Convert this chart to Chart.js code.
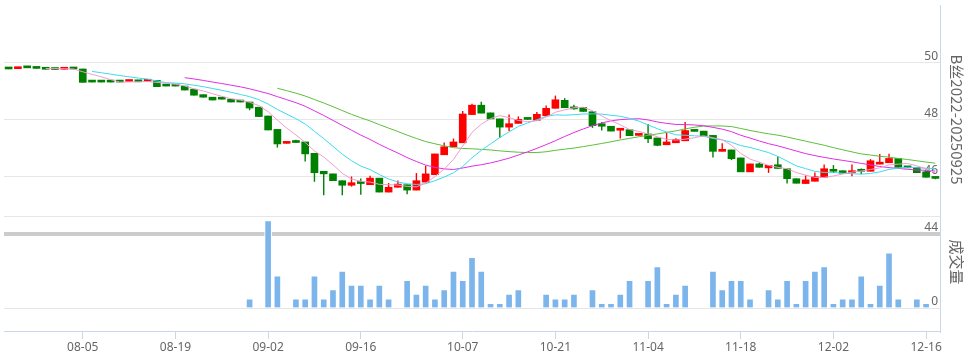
<!DOCTYPE html>
<html>
<head>
<meta charset="utf-8">
<script src="https://cdn.jsdelivr.net/npm/chart.js@4.4.1/dist/chart.umd.min.js"></script>
<style>
html,body{margin:0;padding:0;background:#ffffff;overflow:hidden}
#wrap{position:relative;width:970px;height:359px}
</style>
</head>
<body>
<div id="wrap"><canvas id="c" width="970" height="359"></canvas></div>
<script>
// ---- data ----
const dates = [
 '07-24','07-25','07-26','07-29','07-30','07-31','08-01','08-02',
 '08-05','08-06','08-07','08-08','08-09','08-12','08-13','08-14','08-15','08-16',
 '08-19','08-20','08-21','08-22','08-23','08-26','08-27','08-28','08-29','08-30',
 '09-02','09-03','09-04','09-05','09-06','09-09','09-10','09-11','09-12','09-13',
 '09-16','09-17','09-18','09-19','09-20','09-23','09-24','09-25','09-26','09-27','09-30',
 '10-07','10-08','10-09','10-10','10-11','10-14','10-15','10-16','10-17','10-18',
 '10-21','10-22','10-23','10-24','10-25','10-28','10-29','10-30','10-31','11-01',
 '11-04','11-05','11-06','11-07','11-08','11-11','11-12','11-13','11-14','11-15',
 '11-18','11-19','11-20','11-21','11-22','11-25','11-26','11-27','11-28','11-29',
 '12-02','12-03','12-04','12-05','12-06','12-09','12-10','12-11','12-12','12-13',
 '12-16','12-17'
];
const tickLabels = ['08-05','08-19','09-02','09-16','10-07','10-21','11-04','11-18','12-02','12-16'];

const openP = [
 49.80,49.80,49.84,49.82,49.79,49.78,49.78,49.80,49.79,49.34,
 49.34,49.34,49.34,49.35,49.35,49.36,49.39,49.20,49.20,49.19,
 49.08,48.89,48.80,48.74,48.73,48.64,48.63,48.45,48.14,47.67,
 47.18,47.24,47.23,46.83,46.20,46.11,45.87,45.71,45.80,45.73,
 45.96,45.47,45.64,45.73,45.54,45.82,46.08,46.78,47.06,47.20,
 48.19,48.52,48.25,48.04,47.75,47.88,48.03,47.99,48.15,48.41,
 48.69,48.43,48.44,48.29,47.87,47.78,47.64,47.66,47.46,47.51,
 47.37,47.13,47.20,47.27,47.63,47.61,47.46,46.90,46.95,46.67,
 46.18,46.46,46.32,46.43,46.29,45.94,45.77,45.85,45.99,46.27,
 46.22,46.15,46.21,46.20,46.45,46.50,46.65,46.36,46.34,46.18,
 45.96
];
const highP = [
 49.80,49.82,49.84,49.82,49.79,49.78,49.80,49.80,49.79,49.34,
 49.34,49.34,49.34,49.37,49.35,49.38,49.39,49.20,49.20,49.19,
 49.08,48.89,48.80,48.74,48.73,48.64,48.63,48.45,48.14,47.67,
 47.23,47.30,47.23,46.83,46.20,46.11,45.87,46.01,45.94,46.04,
 45.96,45.78,45.87,45.73,46.13,46.39,46.81,47.20,47.34,48.31,
 48.56,48.63,48.25,48.04,48.19,48.12,48.03,48.27,48.50,48.85,
 48.76,48.53,48.44,48.29,47.92,47.78,47.68,47.66,47.48,47.85,
 47.37,47.55,47.35,47.92,47.65,47.61,47.46,47.18,46.95,46.67,
 46.46,46.50,46.41,46.71,46.29,45.94,46.05,46.15,46.43,46.41,
 46.22,46.43,46.29,46.62,46.80,46.81,46.65,46.36,46.34,46.18,
 45.97
];
const lowP = [
 49.79,49.80,49.83,49.81,49.78,49.77,49.78,49.79,49.32,49.33,
 49.33,49.33,49.33,49.35,49.34,49.36,49.17,49.19,49.19,49.05,
 48.87,48.80,48.70,48.73,48.63,48.63,48.35,48.12,47.65,47.04,
 47.18,47.21,46.55,45.84,45.37,45.87,45.37,45.67,45.38,45.73,
 45.47,45.47,45.64,45.40,45.54,45.82,46.08,46.78,47.06,47.20,
 48.19,48.24,48.04,47.38,47.62,47.88,48.02,47.99,48.15,48.41,
 48.43,48.37,48.30,47.73,47.64,47.61,47.36,47.45,47.46,47.20,
 47.09,47.13,47.20,47.27,47.60,47.44,46.69,46.90,46.60,46.18,
 46.18,46.34,46.15,46.30,45.78,45.78,45.77,45.85,45.99,46.15,
 46.13,46.03,46.11,46.20,46.45,46.50,46.34,46.32,46.15,45.99,
 45.93
];
const closeP = [
 49.79,49.82,49.83,49.81,49.78,49.77,49.80,49.79,49.32,49.33,
 49.33,49.33,49.33,49.37,49.34,49.38,49.17,49.19,49.19,49.05,
 48.87,48.80,48.70,48.73,48.63,48.63,48.42,48.12,47.65,47.16,
 47.23,47.21,46.81,46.15,46.11,45.87,45.71,45.80,45.77,45.96,
 45.47,45.64,45.75,45.54,45.87,46.11,46.81,47.06,47.23,48.21,
 48.52,48.24,48.04,47.75,47.87,48.02,48.02,48.20,48.41,48.71,
 48.43,48.39,48.30,47.80,47.78,47.61,47.68,47.45,47.48,47.34,
 47.11,47.23,47.32,47.63,47.60,47.44,46.90,46.97,46.64,46.18,
 46.46,46.34,46.41,46.30,45.94,45.78,45.90,46.01,46.29,46.20,
 46.13,46.22,46.20,46.57,46.49,46.65,46.34,46.32,46.15,45.99,
 45.95
];
const volume = [
 0,0,0,0,0,0,0,0,0,0,
 0,0,0,0,0,0,0,0,0,0,
 0,0,0,0,0,0,2,0,19,7,
 0,2,2,7,2,4,8,5,5,2,
 5,2,0,6,3,5,2,4,8,6,
 11,8,1,1,3,4,0,0,3,2,
 2,3,0,4,1,1,3,6,0,6,
 9,1,3,5,0,0,8,4,6,6,
 2,0,4,2,6,1,6,8,9,1,
 2,2,7,1,5,12,2,0,2,1,
 0
];
const maPeriods = [5, 10, 20, 30];
const priceTicks = [44, 46, 48, 50];
const volumeTicks = [0, 20];
const priceTitle = 'B丝2022-20250925';
const volumeTitle = '成交量';

// ---- styles ----
const UP = '#ff0000', DOWN = '#008000';
const maColors = ['#f29ccf', '#3adcec', '#e02ee4', '#5cbf3c'];
const candleColor = closeP.map((c, i) => c > openP[i] ? UP : DOWN);

// moving averages of the close series (as the source chart plots them)
function movingAverage(n) {
  return closeP.map((_, i) => {
    if (i < n - 1) return null;
    let s = 0;
    for (let k = i - n + 1; k <= i; k++) s += closeP[k];
    return +(s / n).toFixed(3);
  });
}

Chart.defaults.font.family = '"Noto Sans", "Noto Sans CJK SC", sans-serif';
Chart.defaults.font.size = 12;
Chart.defaults.color = '#666666';

const zeroPad = s => { s.paddingTop = 0; s.paddingBottom = 0; s.paddingLeft = 0; s.paddingRight = 0; };

const sideTitles = {
  id: 'sideTitles',
  afterDraw(chart) {
    const {ctx, chartArea} = chart;
    const y = chart.scales.y, yv = chart.scales.yv;
    const cx = chartArea.right + 17;
    const items = [
      [priceTitle, (chartArea.top + y.getPixelForValue(priceTicks[0])) / 2],
      [volumeTitle, (yv.getPixelForValue(volumeTicks[1]) + yv.getPixelForValue(volumeTicks[0])) / 2]
    ];
    ctx.save();
    ctx.fillStyle = '#666666';
    ctx.font = '15px "Noto Sans CJK SC", "Noto Sans", sans-serif';
    ctx.textAlign = 'center';
    ctx.textBaseline = 'middle';
    items.forEach(([t, cy]) => {
      ctx.save();
      ctx.translate(cx, cy);
      ctx.rotate(Math.PI / 2);
      ctx.fillText(t, 0, 0);
      ctx.restore();
    });
    ctx.restore();
  }
};

const datasets = [];
maPeriods.forEach((n, k) => {
  datasets.push({
    type: 'line', label: 'MA' + n, data: movingAverage(n), yAxisID: 'y',
    borderColor: maColors[k], borderWidth: 1, pointRadius: 0, tension: 0,
    fill: false, spanGaps: false, order: 0
  });
});
datasets.push({
  type: 'bar', label: 'body', data: openP.map((o, i) => [o, closeP[i]]), yAxisID: 'y',
  backgroundColor: candleColor, borderWidth: 0, barThickness: 7, minBarLength: 2,
  grouped: false, order: 1
});
datasets.push({
  type: 'bar', label: 'wick', data: lowP.map((l, i) => [l, highP[i]]), yAxisID: 'y',
  backgroundColor: candleColor, borderWidth: 0, barThickness: 1, inflateAmount: 0.2,
  grouped: false, order: 2
});
datasets.push({
  type: 'bar', label: 'volume', data: volume, yAxisID: 'yv',
  backgroundColor: '#7cb5ec', borderColor: '#ffffff', borderWidth: 1, barThickness: 7,
  grouped: false, order: 3
});

new Chart(document.getElementById('c'), {
  type: 'bar',
  data: { labels: dates, datasets },
  options: {
    responsive: false, animation: false, devicePixelRatio: 1,
    layout: { padding: { left: 4, right: 30, top: 5, bottom: 0 } },
    plugins: { legend: { display: false }, tooltip: { enabled: false } },
    scales: {
      x: {
        type: 'category', offset: true,
        afterBuildTicks: s => { s.ticks = s.ticks.filter(t => tickLabels.includes(dates[t.value])); },
        afterFit: s => { zeroPad(s); s.height = 28; },
        grid: { offset: false, drawOnChartArea: false, tickLength: 8, color: '#ccd6eb' },
        border: { display: true, color: '#ccd6eb' },
        ticks: { autoSkip: false, maxRotation: 0, minRotation: 0, padding: 1, color: '#666666' }
      },
      y: {
        type: 'linear', position: 'right', min: 40.596, max: 52.035,
        afterBuildTicks: s => { s.ticks = priceTicks.map(v => ({ value: v })); },
        afterFit: s => { zeroPad(s); s.width = 0; },
        grid: {
          drawTicks: false,
          color: c => (c.tick && c.tick.value === priceTicks[0]) ? '#cccccc' : '#e6e6e6',
          lineWidth: c => (c.tick && c.tick.value === priceTicks[0]) ? 4 : 1
        },
        border: { display: true, color: '#ccd6eb' },
        ticks: { mirror: true, padding: -2, labelOffset: -6, color: '#666666' }
      },
      yv: {
        type: 'linear', position: 'right', min: -5, max: 65.87,
        afterBuildTicks: s => { s.ticks = volumeTicks.map(v => ({ value: v })); },
        afterFit: s => { zeroPad(s); s.width = 0; },
        grid: { drawTicks: false, color: '#e6e6e6', lineWidth: 1 },
        border: { display: false },
        ticks: { mirror: true, padding: -2, labelOffset: -6, color: '#666666',
                 callback: v => v === volumeTicks[0] ? String(v) : '' }
      }
    }
  },
  plugins: [sideTitles]
});
</script>
</body>
</html>
